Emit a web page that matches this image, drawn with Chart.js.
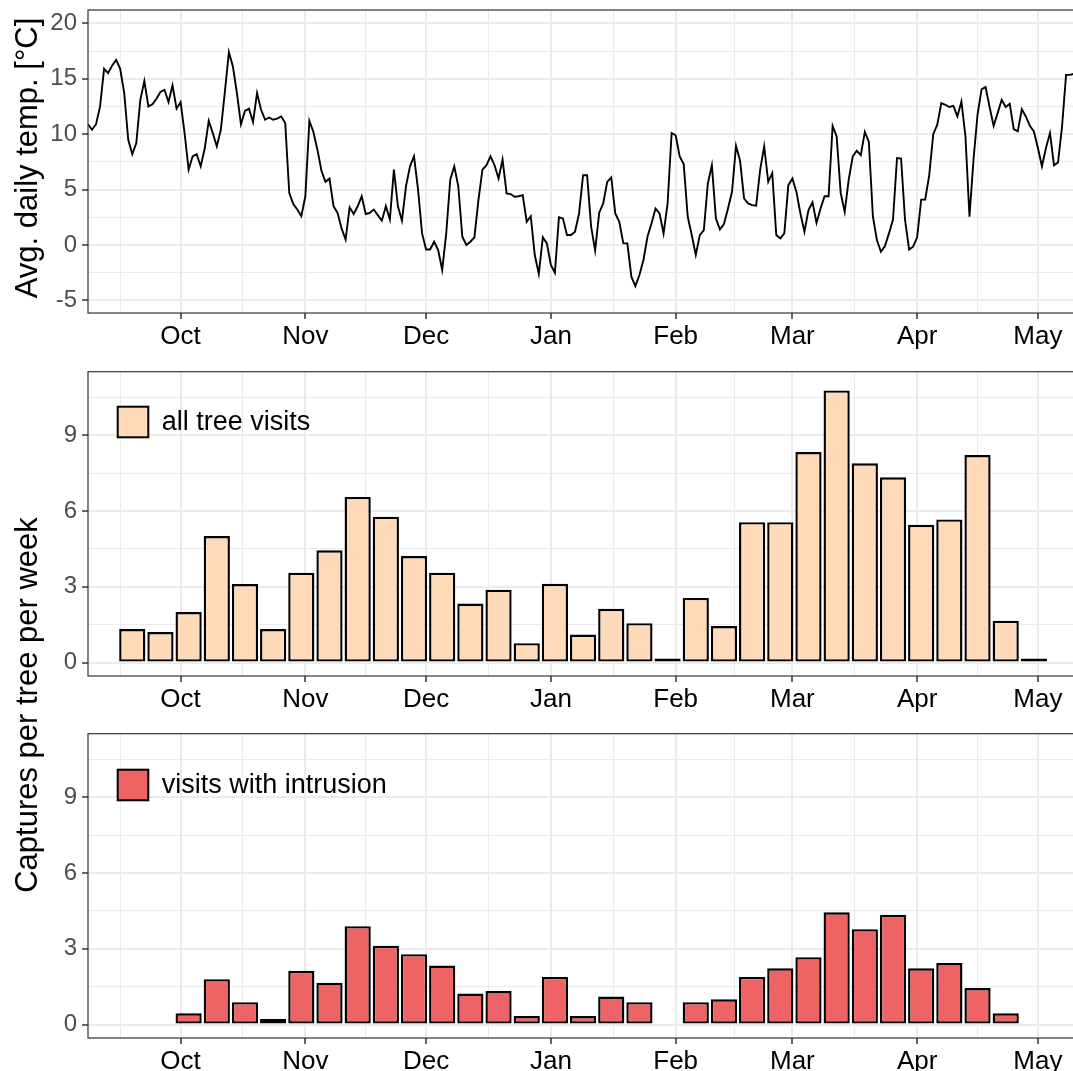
<!DOCTYPE html>
<html>
<head>
<meta charset="utf-8">
<script src="https://cdn.jsdelivr.net/npm/chart.js@4.4.1/dist/chart.umd.min.js"></script>
<style>
  html, body { margin: 0; padding: 0; background: #fff; width: 1073px; height: 1071px; overflow: hidden; }
  .panel { position: absolute; left: 0; width: 1085px; }
  .ytitle {
    position: absolute; left: 26px;
    transform: translate(-50%, -50%) rotate(-90deg);
    font-family: 'Liberation Sans', Arial, sans-serif; font-size: 31px; line-height: 31px;
    white-space: nowrap; color: #000;
  }
</style>
</head>
<body>
<div class="panel" style="top:0;height:360px"><canvas id="tempChart"></canvas></div>
<div class="panel" style="top:360px;height:370px"><canvas id="allChart"></canvas></div>
<div class="panel" style="top:720px;height:400px"><canvas id="intrChart"></canvas></div>
<div class="ytitle" style="top:158px">Avg. daily temp. [°C]</div>
<div class="ytitle" style="top:705px">Captures per tree per week</div>

<script>
// daily mean temperature, starting 2019-09-08
const tempFirstDate = '2019-09-08';
const tempValues = [
  10.9, 10.4, 10.9, 12.5, 15.9, 15.5, 16.2, 16.7, 15.9, 13.7,
  9.5, 8.2, 9.2, 13.1, 14.8, 12.5, 12.7, 13.2, 13.8, 14.0,
  12.9, 14.4, 12.3, 12.9, 10.1, 6.8, 8.0, 8.2, 7.1, 8.7,
  11.2, 10.1, 8.9, 10.4, 13.8, 17.4, 16.1, 13.7, 10.9, 12.1,
  12.3, 11.1, 13.7, 12.2, 11.3, 11.5, 11.3, 11.4, 11.6, 11.0,
  4.7, 3.7, 3.2, 2.6, 4.4, 11.2, 10.2, 8.6, 6.7, 5.7,
  6.0, 3.5, 2.9, 1.5, 0.5, 3.4, 2.8, 3.5, 4.4, 2.8,
  2.9, 3.2, 2.7, 2.2, 3.5, 2.3, 6.8, 3.5, 2.2, 5.3,
  7.1, 8.0, 5.0,
  1.05, -0.4, -0.4, 0.3, -0.45, -2.25, 1.05, 5.9, 7.1, 5.3,
  0.75, 0.0, 0.3, 0.7, 4.05, 6.8, 7.2, 8.0, 7.2, 6.0,
  7.7, 4.65, 4.6, 4.35, 4.4, 4.5, 2.1, 2.6, -0.9, -2.6,
  0.7, 0.15, -1.8, -2.5, 2.5, 2.4, 0.9, 0.9, 1.2, 2.85,
  6.3, 6.3, 1.65, -0.5, 2.9, 3.75, 5.7, 6.1, 2.85, 2.1,
  0.15, 0.15, -2.85, -3.7, -2.7, -1.35, 0.75, 1.95, 3.3, 2.85,
  1.05, 3.75, 10.1, 9.9, 8.0, 7.3, 2.55, 0.9, -0.9, 0.9,
  1.35, 5.55, 7.2, 2.4, 1.4, 1.9, 3.3, 4.8,
  8.95, 7.6, 4.2, 3.75, 3.6, 3.55, 6.8, 8.9, 5.7, 6.5,
  0.9, 0.6, 1.05, 5.4, 6.0, 4.8, 2.85, 1.2, 3.15, 3.85,
  2.0, 3.3, 4.4, 4.4, 10.75, 9.8, 4.7, 3.0, 5.9, 8.0,
  8.5, 8.1, 10.2, 9.3, 2.6, 0.45, -0.6, -0.1, 1.05, 2.3,
  7.85, 7.8, 2.25, -0.4, -0.15, 0.7, 4.1, 4.1, 6.3, 10.0,
  10.85, 12.8, 12.65, 12.45, 12.55, 11.6, 12.95, 9.8, 2.55, 7.7,
  11.75, 14.05, 14.25, 12.45, 10.75, 11.9, 13.1, 12.45, 12.75, 10.45,
  10.25, 12.25, 11.6, 10.75, 10.25, 8.75, 7.1, 8.75, 10.1, 7.2,
  7.45, 10.7, 15.35, 15.35, 15.45
];

// weekly captures (bar centres)
const weekDates = [
  '2019-09-19', '2019-09-26', '2019-10-03', '2019-10-10', '2019-10-17', '2019-10-24', '2019-10-31',
  '2019-11-07', '2019-11-14', '2019-11-21', '2019-11-28', '2019-12-05', '2019-12-12', '2019-12-19',
  '2019-12-26', '2020-01-02', '2020-01-09', '2020-01-16', '2020-01-23', '2020-01-30', '2020-02-06',
  '2020-02-13', '2020-02-20', '2020-02-27', '2020-03-05', '2020-03-12', '2020-03-19', '2020-03-26',
  '2020-04-02', '2020-04-09', '2020-04-16', '2020-04-23', '2020-04-30'
];
const allVisits = [
  1.33, 1.21, 2.0, 5.01, 3.11, 1.33, 3.56, 4.45, 6.56, 5.78, 4.22, 3.56, 2.34, 2.89, 0.77, 3.12, 1.11,
  2.13, 1.56, 0.1, 2.56, 1.45, 5.56, 5.56, 8.34, 10.78, 7.89, 7.34, 5.46, 5.67, 8.22, 1.66, 0.1
];
const intrusionVisits = [
  null, null, 0.45, 1.80, 0.89, 0.22, 2.13, 1.66, 3.90, 3.12, 2.79, 2.34, 1.23, 1.33, 0.34, 1.89, 0.34,
  1.11, 0.89, null, 0.89, 1.0, 1.89, 2.23, 2.67, 4.45, 3.78, 4.35, 2.23, 2.44, 1.45, 0.45, null
];

// axis breaks
const monthStarts = ['2019-09-01', '2019-10-01', '2019-11-01', '2019-12-01', '2020-01-01',
  '2020-02-01', '2020-03-01', '2020-04-01', '2020-05-01', '2020-06-01'];
const monthLabels = ['Sep', 'Oct', 'Nov', 'Dec', 'Jan', 'Feb', 'Mar', 'Apr', 'May', 'Jun'];
const tempTicks = [-5, 0, 5, 10, 15, 20];
const countTicks = [0, 3, 6, 9];

Chart.defaults.font.family = "'Liberation Sans', Arial, sans-serif";
Chart.defaults.animation = false;

const origin = Date.UTC(2019, 9, 1);
const dayOf = s => {
  const [y, m, d] = s.split('-').map(Number);
  return Math.round((Date.UTC(y, m - 1, d) - origin) / 86400000);
};

const xMin = dayOf(tempFirstDate);
const xMax = xMin + 997 / 4.025;
const monthDays = monthStarts.map(dayOf);
const xMinor = monthDays.slice(1).map((d, i) => (d + monthDays[i]) / 2);
const xAll = monthDays.concat(xMinor).sort((a, b) => a - b);

const withMinors = major => {
  const step = major[1] - major[0];
  const minors = [major[0] - step / 2].concat(major.map(v => v + step / 2));
  return major.concat(minors).sort((a, b) => a - b);
};

const gridFor = majors => ({
  color: '#EBEBEB',
  lineWidth: c => majors.includes(c.tick.value) ? 2 : 1,
  tickColor: c => majors.includes(c.tick.value) ? '#333333' : 'rgba(0,0,0,0)',
  tickWidth: 1.5,
  tickLength: 6,
  offset: false
});

const xScale = height => ({
  type: 'linear',
  min: xMin,
  max: xMax,
  offset: false,
  afterBuildTicks: s => {
    s.ticks = xAll.filter(v => v >= s.min && v <= s.max).map(v => ({ value: v }));
  },
  afterFit: s => { s.height = height; s.paddingLeft = 0; s.paddingRight = 0; },
  ticks: {
    autoSkip: false, maxRotation: 0, minRotation: 0, padding: 2,
    color: '#000', font: { size: 26 },
    callback: v => {
      const i = monthDays.indexOf(v);
      return i >= 0 ? monthLabels[i] : '';
    }
  },
  grid: gridFor(monthDays),
  border: { display: false }
});

const yScale = (min, max, majors) => ({
  type: 'linear',
  min: min,
  max: max,
  afterBuildTicks: s => {
    s.ticks = withMinors(majors).filter(v => v >= s.min && v <= s.max).map(v => ({ value: v }));
  },
  afterFit: s => { s.width = 88; s.paddingTop = 0; s.paddingBottom = 0; },
  ticks: {
    autoSkip: false, padding: 5, color: '#4D4D4D', font: { size: 24 },
    callback: v => majors.includes(v) ? String(v) : ''
  },
  grid: gridFor(majors),
  border: { display: false }
});

const panelFrame = {
  id: 'panelFrame',
  afterDraw(chart) {
    const { ctx, chartArea: a } = chart;
    ctx.save();
    ctx.strokeStyle = '#333333';
    ctx.lineWidth = 1.2;
    ctx.strokeRect(a.left, a.top, a.right - a.left, a.bottom - a.top);
    ctx.restore();
  }
};

// legend key drawn inside the panel, top-left
const insideLegend = {
  id: 'insideLegend',
  afterDatasetsDraw(chart, args, opts) {
    if (!opts.show) return;
    const { ctx, chartArea: a } = chart;
    const ds = chart.data.datasets[0];
    const x = a.left + 29.7, y = a.top + opts.dy, s = 30.6;
    ctx.save();
    ctx.fillStyle = ds.backgroundColor;
    ctx.fillRect(x, y, s, s);
    ctx.strokeStyle = '#000';
    ctx.lineWidth = 2;
    ctx.strokeRect(x, y, s, s);
    ctx.fillStyle = '#000';
    ctx.font = "27px 'Liberation Sans', Arial, sans-serif";
    ctx.textBaseline = 'middle';
    ctx.fillText(ds.label, a.left + 73.7, y + s / 2 + 1);
    ctx.restore();
  }
};

const basePlugins = { legend: { display: false }, tooltip: { enabled: false } };

new Chart(document.getElementById('tempChart'), {
  type: 'line',
  data: {
    datasets: [{
      label: 'Avg. daily temp.',
      data: tempValues.map((v, i) => ({ x: xMin + i, y: v })),
      borderColor: '#000',
      borderWidth: 1.9,
      pointRadius: 0,
      tension: 0,
      fill: false
    }]
  },
  options: {
    responsive: true,
    maintainAspectRatio: false,
    layout: { padding: { top: 10, left: 0, right: 0, bottom: 0 } },
    scales: { x: xScale(47), y: yScale(-6.13, 21.2, tempTicks) },
    plugins: basePlugins
  },
  plugins: [panelFrame]
});

const barChart = (id, label, values, color, top, xHeight, dy) => new Chart(document.getElementById(id), {
  type: 'bar',
  data: {
    datasets: [{
      label: label,
      data: weekDates.map((d, i) => ({ x: dayOf(d), y: values[i] })),
      backgroundColor: color,
      borderColor: '#000',
      borderWidth: 2.4,
      borderSkipped: false,
      minBarLength: 4,
      barPercentage: 0.93,
      categoryPercentage: 1.0
    }]
  },
  options: {
    responsive: true,
    maintainAspectRatio: false,
    layout: { padding: { top: top, left: 0, right: 0, bottom: 0 } },
    scales: { x: xScale(xHeight), y: yScale(-0.53, 11.52, countTicks) },
    plugins: Object.assign({ insideLegend: { show: true, dy: dy } }, basePlugins)
  },
  plugins: [panelFrame, insideLegend]
});

barChart('allChart', 'all tree visits', allVisits, '#FFDAB9', 11.7, 54, 35);
barChart('intrChart', 'visits with intrusion', intrusionVisits, '#EE6363', 13.7, 82, 36);
</script>
</body>
</html>
